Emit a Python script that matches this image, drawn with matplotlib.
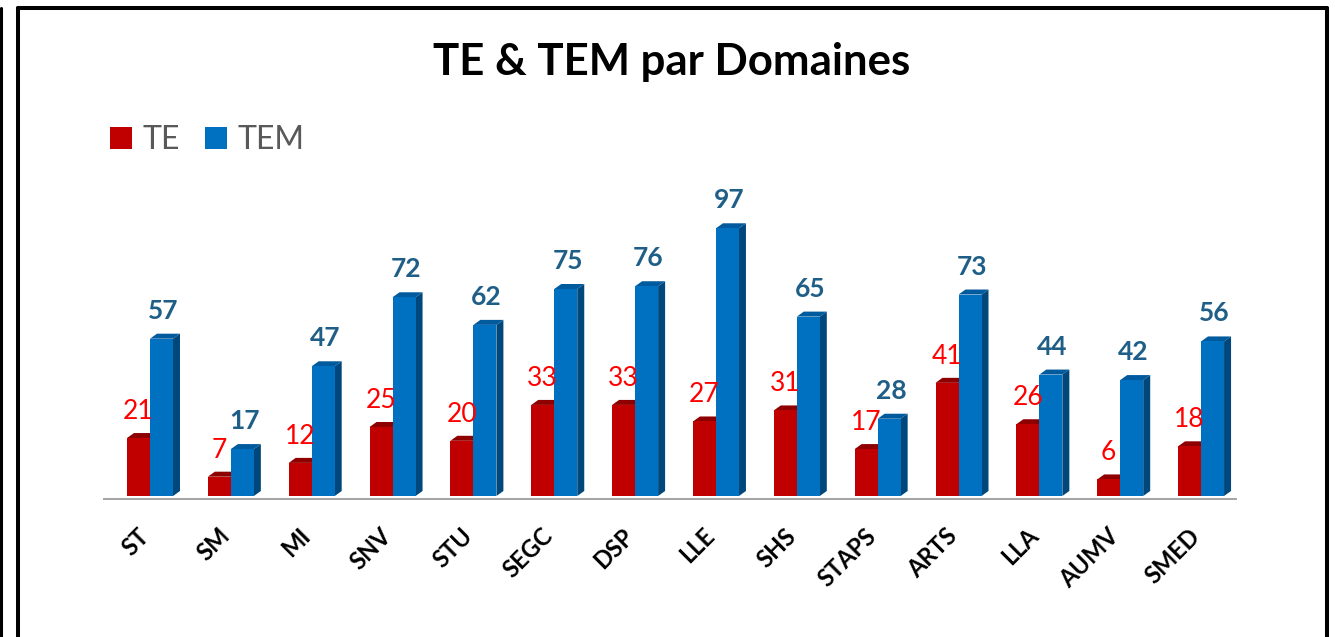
import matplotlib
matplotlib.use("Agg")
import matplotlib.pyplot as plt
from matplotlib.patches import Polygon, Patch
from matplotlib.lines import Line2D
import numpy as np

categories = ["ST", "SM", "MI", "SNV", "STU", "SEGC", "DSP", "LLE", "SHS",
              "STAPS", "ARTS", "LLA", "AUMV", "SMED"]
te_values = [21, 7, 12, 25, 20, 33, 33, 27, 31, 17, 41, 26, 6, 18]
tem_values = [57, 17, 47, 72, 62, 75, 76, 97, 65, 28, 73, 44, 42, 56]

FONT = "Lato"
W, H = 1335, 637
fig = plt.figure(figsize=(W / 100, H / 100), dpi=100)
fig.patch.set_facecolor("white")

# axes placement in pixels
ax_l, ax_r, ax_b, ax_t = 103, 1237, 500, 180
ax = fig.add_axes([ax_l / W, (H - ax_b) / H, (ax_r - ax_l) / W, (ax_b - ax_t) / H])
px_per_unit_x = 80.85
px_per_unit_y = 2.76
ax.set_xlim((ax_l - 150) / px_per_unit_x, (ax_r - 150) / px_per_unit_x)
ymin = -4 / px_per_unit_y
ax.set_ylim(ymin, ymin + (ax_b - ax_t) / px_per_unit_y)
ax.axis("off")

x = np.arange(len(categories))
w = 23 / px_per_unit_x
dx = 7 / px_per_unit_x
dy = 5 / px_per_unit_y

red_front, red_top, red_side = "#C00000", "#8E0000", "#8E0000"
blue_front, blue_top, blue_side = "#0070C0", "#005A9E", "#00477C"

# floor line
ax.axhline(ymin + 0.2, color="#A6A6A6", lw=2.2, zorder=1)


def draw_bars(centers, values, front, top, side, z):
    ax.bar(centers, values, width=w, color=front, edgecolor="none", zorder=z)
    for c, v in zip(centers, values):
        xl, xr = c - w / 2, c + w / 2
        ax.add_patch(Polygon([(xr, 0), (xr + dx, dy), (xr + dx, v + dy), (xr, v)],
                             closed=True, facecolor=side, edgecolor="none", zorder=z - 0.1))
        ax.add_patch(Polygon([(xl, v), (xl + dx, v + dy), (xr + dx, v + dy), (xr, v)],
                             closed=True, facecolor=top, edgecolor="none", zorder=z - 0.1))


draw_bars(x - w / 2, te_values, red_front, red_top, red_side, 3)
draw_bars(x + w / 2, tem_values, blue_front, blue_top, blue_side, 5)

for xi, v in zip(x - w / 2, te_values):
    ax.annotate(str(v), (xi, v), xytext=(0, 13.7), textcoords="offset points",
                ha="center", va="baseline", color="#FF0000", fontsize=19,
                family=FONT, zorder=6)
for xi, v in zip(x + w / 2, tem_values):
    ax.annotate(str(v), (xi + dx / 4, v), xytext=(0, 14.4), textcoords="offset points",
                ha="center", va="baseline", color="#1F5F87", fontsize=19,
                fontweight="bold", family=FONT, zorder=6)

# category labels
for xi, lab in zip(x, categories):
    ax.annotate(lab, (xi, ymin), xytext=(-13, -24), textcoords="offset pixels",
                rotation=45, rotation_mode="anchor", ha="right", va="top",
                fontsize=17, fontweight="bold", family=FONT, color="black")

# title
fig.text(672 / W, 1 - 62 / H, "TE & TEM par Domaines", ha="center", va="center",
         fontsize=31.5, fontweight="bold", family=FONT, color="black")

# legend
handles = [Patch(facecolor=red_front, label="TE"), Patch(facecolor=blue_front, label="TEM")]
leg = fig.legend(handles=handles, loc="center left", bbox_to_anchor=(110 / W, 1 - 140 / H),
                 ncol=2, frameon=False, prop={"family": FONT, "size": 23},
                 handlelength=0.68, handleheight=0.68, handletextpad=0.33,
                 columnspacing=0.8, borderaxespad=0, borderpad=0)
for t in leg.get_texts():
    t.set_color("#595959")

# frame
lw = 2.9
fig.add_artist(Line2D([18 / W, 18 / W], [0, 1 - 8 / H], color="black", lw=lw,
                      transform=fig.transFigure, solid_capstyle="round"))
fig.add_artist(Line2D([18 / W, 1327 / W], [1 - 8 / H, 1 - 8 / H], color="black", lw=lw,
                      transform=fig.transFigure, solid_capstyle="round"))
fig.add_artist(Line2D([1327 / W, 1327 / W], [0, 1 - 8 / H], color="black", lw=lw,
                      transform=fig.transFigure, solid_capstyle="round"))
fig.add_artist(Line2D([1 / W, 1 / W], [0, 1 - 8 / H], color="black", lw=2.2,
                      transform=fig.transFigure, solid_capstyle="round"))

fig.savefig("out.png", dpi=100, facecolor="white")
